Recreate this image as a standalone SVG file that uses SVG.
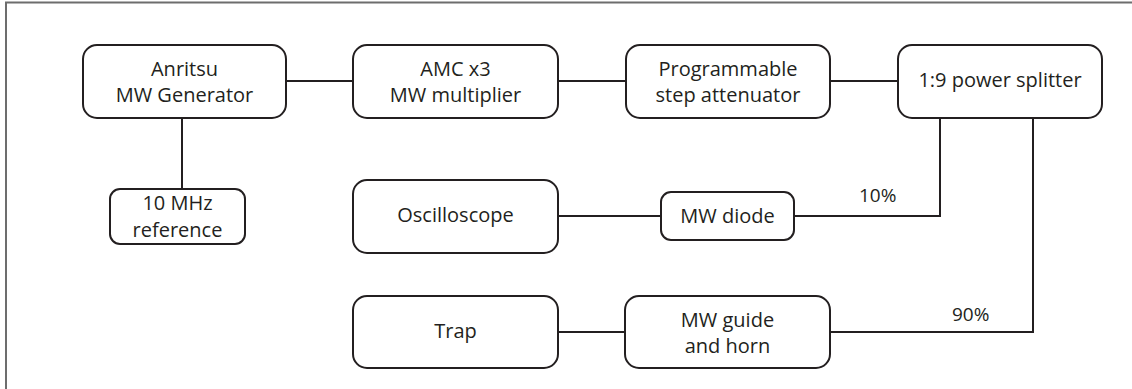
<svg xmlns="http://www.w3.org/2000/svg" width="1132" height="389" viewBox="0 0 1132 389">
<style>
.frame{fill:none;stroke:#6d6d6d;stroke-width:2}
.box{fill:#fff;stroke:#231f20;stroke-width:2}
.lbl{font-family:"Open Sans","Noto Sans",sans-serif;font-size:20px;fill:#231f20;text-anchor:middle}
.pct{font-family:"Open Sans","Noto Sans",sans-serif;font-size:19px;fill:#231f20}
.conn{fill:none;stroke:#231f20;stroke-width:2}
</style>
<rect width="1132" height="389" fill="#fff"/>
<path class="frame" d="M6,390 V2.5 H1133"/>
<g id="connectors">
<path class="conn" d="M286,81 H353"/>
<path class="conn" d="M558,81 H626"/>
<path class="conn" d="M830,81 H898"/>
<path class="conn" d="M182,118 V189"/>
<path class="conn" d="M558,216 H661"/>
<path class="conn" d="M794,216 H940 V118"/>
<path class="conn" d="M558,332 H625"/>
<path class="conn" d="M830,332 H1033 V118"/>
<text class="pct" x="859" y="202">10%</text>
<text class="pct" x="952" y="321">90%</text>
</g>
<g id="anritsu">
<rect class="box" x="83" y="45" width="203" height="73" rx="14"/>
<text class="lbl" x="184.5" y="76">Anritsu</text>
<text class="lbl" x="184.5" y="102">MW Generator</text>
</g>
<g id="amc">
<rect class="box" x="353" y="45" width="205" height="73" rx="14"/>
<text class="lbl" x="455.5" y="76">AMC x3</text>
<text class="lbl" x="455.5" y="102">MW multiplier</text>
</g>
<g id="attenuator">
<rect class="box" x="626" y="45" width="204" height="73" rx="14"/>
<text class="lbl" x="728" y="76">Programmable</text>
<text class="lbl" x="728" y="102">step attenuator</text>
</g>
<g id="splitter">
<rect class="box" x="898" y="45" width="204" height="73" rx="14"/>
<text class="lbl" x="1000" y="87">1:9 power splitter</text>
</g>
<g id="reference">
<rect class="box" x="110" y="189" width="135" height="55" rx="10"/>
<text class="lbl" x="177.5" y="210">10 MHz</text>
<text class="lbl" x="177.5" y="237">reference</text>
</g>
<g id="oscilloscope">
<rect class="box" x="353" y="180" width="205" height="73" rx="14"/>
<text class="lbl" x="455.5" y="222">Oscilloscope</text>
</g>
<g id="diode">
<rect class="box" x="661" y="192" width="133" height="48" rx="10"/>
<text class="lbl" x="727.5" y="223">MW diode</text>
</g>
<g id="trap">
<rect class="box" x="353" y="296" width="205" height="72" rx="14"/>
<text class="lbl" x="455.5" y="338">Trap</text>
</g>
<g id="guide">
<rect class="box" x="625" y="296" width="205" height="72" rx="14"/>
<text class="lbl" x="727.5" y="327">MW guide</text>
<text class="lbl" x="727.5" y="353">and horn</text>
</g>
</svg>
